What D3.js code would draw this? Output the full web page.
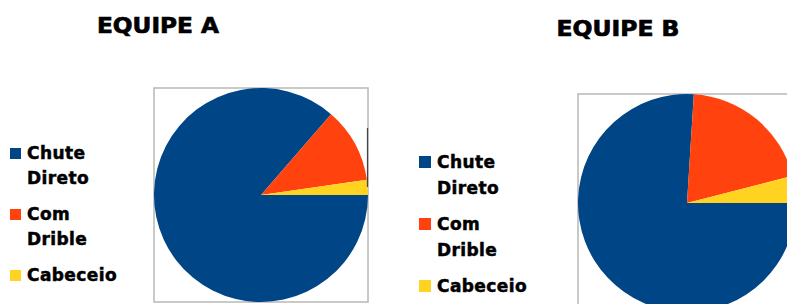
<!DOCTYPE html>
<html>
<head>
<meta charset="utf-8">
<script src="https://cdn.jsdelivr.net/npm/d3@7"></script>
<style>
  body { margin: 0; background: #fff; }
  text { font-family: "DejaVu Sans", sans-serif; font-weight: bold; fill: #000; stroke: #000; }
</style>
</head>
<body>
<svg width="787" height="304"></svg>
<script>
// data
const categories = ['Chute Direto', 'Com Drible', 'Cabeceio'];
const legendLines = [['Chute', 'Direto'], ['Com', 'Drible'], ['Cabeceio']];
const teamA = [38, 5, 1];
const teamB = [19, 5, 1];
const titles = ['EQUIPE A', 'EQUIPE B'];
const colors = ['#004586', '#ff420e', '#ffd320'];

const svg = d3.select('svg');

const color = d3.scaleOrdinal()
    .domain(categories)
    .range(colors);

// pie starts at 3 o'clock, goes clockwise
const pie = d3.pie()
    .sort(null)
    .startAngle(Math.PI / 2)
    .endAngle(Math.PI / 2 + 2 * Math.PI);

function drawChart(values, title, opt) {
    const g = svg.append('g');

    g.append('text')
        .attr('x', opt.titleX)
        .attr('y', opt.titleY)
        .attr('text-anchor', 'middle')
        .attr('textLength', opt.titleW)
        .attr('lengthAdjust', 'spacingAndGlyphs')
        .style('font-size', '22px')
        .style('stroke-width', 0.7)
        .text(title);

    // frame
    g.append('rect')
        .attr('x', opt.cx - opt.box / 2)
        .attr('y', opt.cy - opt.box / 2)
        .attr('width', opt.box)
        .attr('height', opt.box)
        .attr('fill', 'none')
        .attr('stroke', '#b8b8b8')
        .attr('stroke-width', 1.5);

    const arc = d3.arc().innerRadius(0).outerRadius(opt.r);

    g.append('g')
        .attr('transform', `translate(${opt.cx}, ${opt.cy})`)
        .selectAll('path')
        .data(pie(values))
        .enter()
        .append('path')
        .attr('d', arc)
        .attr('fill', (d, i) => color(categories[i]));

    // legend
    let y = opt.legendY;
    const leg = g.append('g');
    categories.forEach(function (c, i) {
        leg.append('rect')
            .attr('x', opt.legendX)
            .attr('y', y - opt.sq)
            .attr('width', opt.sq)
            .attr('height', opt.sq)
            .attr('fill', color(c));
        const t = leg.append('text')
            .style('font-size', '17px')
            .style('letter-spacing', '0.4px')
            .style('stroke-width', 0.5);
        legendLines[i].forEach(function (line, j) {
            t.append('tspan')
                .attr('x', opt.legendX + opt.sq + 6)
                .attr('y', y + j * opt.lineH)
                .text(line);
        });
        y += (legendLines[i].length - 1) * opt.lineH + opt.gap;
    });
    return g;
}

const gA = drawChart(teamA, titles[0], {
    titleX: 158, titleY: 33, titleW: 122,
    cx: 261, cy: 195, r: 107, box: 214,
    legendX: 10, legendY: 159, sq: 11, lineH: 25, gap: 36
});

// small dark mark at the right of frame A
gA.append('line')
    .attr('x1', 367.5).attr('x2', 367.5)
    .attr('y1', 128).attr('y2', 187)
    .attr('stroke', '#444')
    .attr('stroke-width', 1.2);

drawChart(teamB, titles[1], {
    titleX: 618, titleY: 36, titleW: 123,
    cx: 687, cy: 203, r: 109, box: 218,
    legendX: 419, legendY: 168, sq: 12, lineH: 26, gap: 36
});
</script>
</body>
</html>
